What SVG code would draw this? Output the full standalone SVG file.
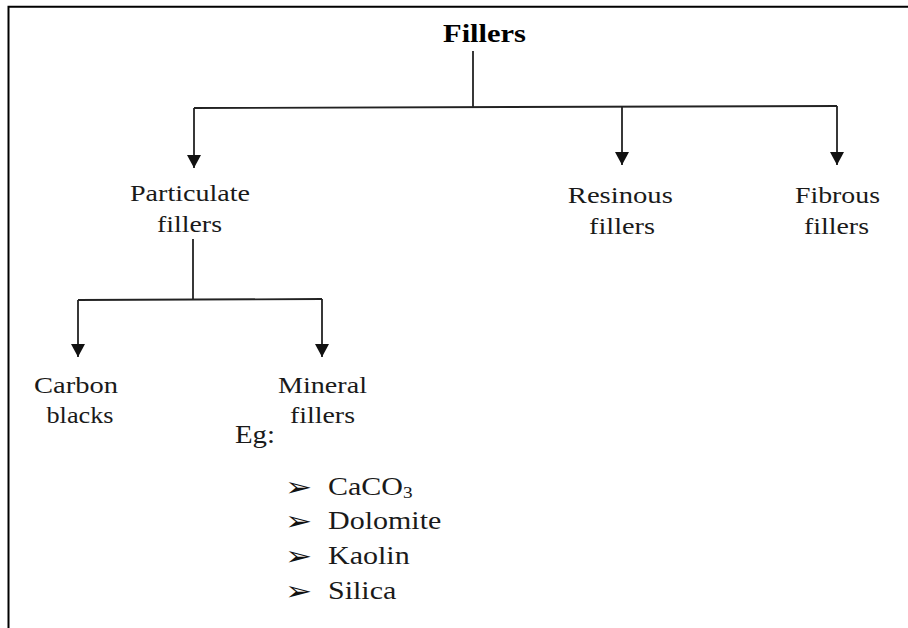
<svg xmlns="http://www.w3.org/2000/svg" width="908" height="628" viewBox="0 0 908 628">
<style>
.t{font-family:"Liberation Serif","Times New Roman",serif;font-size:24px;fill:#1a1a1a;text-anchor:middle}
.b{font-weight:bold;font-size:26px;fill:#000}
.l{font-family:"Liberation Serif","Times New Roman",serif;font-size:25px;fill:#1a1a1a}
.bul{font-family:"DejaVu Sans",sans-serif;font-size:24px;fill:#111}
.c{fill:none;stroke:#222;stroke-width:1.8}
</style>
<defs>
<marker id="ah" markerUnits="userSpaceOnUse" markerWidth="14" markerHeight="14" refX="13" refY="7" orient="auto">
<path d="M0,0 L13,7 L0,14 z" fill="#111"/>
</marker>
</defs>
<rect width="908" height="628" fill="#fff"/>
<path d="M8.5,628 V6.7 H908" fill="none" stroke="#000" stroke-width="2"/>
<g id="connectors">
<path class="c" d="M473,51 V107"/>
<path class="c" d="M194,108 L837,106"/>
<path class="c" d="M194,108 V168" marker-end="url(#ah)"/>
<path class="c" d="M622,106 V165" marker-end="url(#ah)"/>
<path class="c" d="M837,106 V165" marker-end="url(#ah)"/>
<path class="c" d="M193,239 V299"/>
<path class="c" d="M78,300 L322,299"/>
<path class="c" d="M78,300 V357" marker-end="url(#ah)"/>
<path class="c" d="M322,299 V357" marker-end="url(#ah)"/>
</g>
<g id="fillers">
<text class="t b" x="484.5" y="41.7" textLength="83" lengthAdjust="spacingAndGlyphs">Fillers</text>
</g>
<g id="particulate">
<text class="t" x="190" y="200.7" textLength="120" lengthAdjust="spacingAndGlyphs">Particulate</text>
<text class="t" x="189.5" y="231.5" textLength="65" lengthAdjust="spacingAndGlyphs">fillers</text>
</g>
<g id="resinous">
<text class="t" x="620.3" y="202.7" textLength="105" lengthAdjust="spacingAndGlyphs">Resinous</text>
<text class="t" x="622" y="234" textLength="66" lengthAdjust="spacingAndGlyphs">fillers</text>
</g>
<g id="fibrous">
<text class="t" x="837.5" y="202.7" textLength="85" lengthAdjust="spacingAndGlyphs">Fibrous</text>
<text class="t" x="836.5" y="234" textLength="65" lengthAdjust="spacingAndGlyphs">fillers</text>
</g>
<g id="carbon">
<text class="t" x="76" y="393.3" textLength="84" lengthAdjust="spacingAndGlyphs">Carbon</text>
<text class="t" x="80" y="423.3" textLength="67" lengthAdjust="spacingAndGlyphs">blacks</text>
</g>
<g id="mineral">
<text class="t" x="322.5" y="393.3" textLength="89" lengthAdjust="spacingAndGlyphs">Mineral</text>
<text class="t" x="322.5" y="423.3" textLength="65" lengthAdjust="spacingAndGlyphs">fillers</text>
<text class="l" x="235" y="443.3" textLength="40" lengthAdjust="spacingAndGlyphs">Eg:</text>
<g transform="translate(285,496) scale(1.35,1.1)"><text class="bul">➢</text></g>
<g transform="translate(285,530) scale(1.35,1.1)"><text class="bul">➢</text></g>
<g transform="translate(285,565) scale(1.35,1.1)"><text class="bul">➢</text></g>
<g transform="translate(285,600) scale(1.35,1.1)"><text class="bul">➢</text></g>
<g transform="translate(328,495) scale(1.2,1)"><text class="l">CaCO<tspan font-size="16" dy="3">3</tspan></text></g>
<g transform="translate(328,529) scale(1.2,1)"><text class="l">Dolomite</text></g>
<g transform="translate(328,564) scale(1.2,1)"><text class="l">Kaolin</text></g>
<g transform="translate(328,599) scale(1.2,1)"><text class="l">Silica</text></g>
</g>
</svg>
